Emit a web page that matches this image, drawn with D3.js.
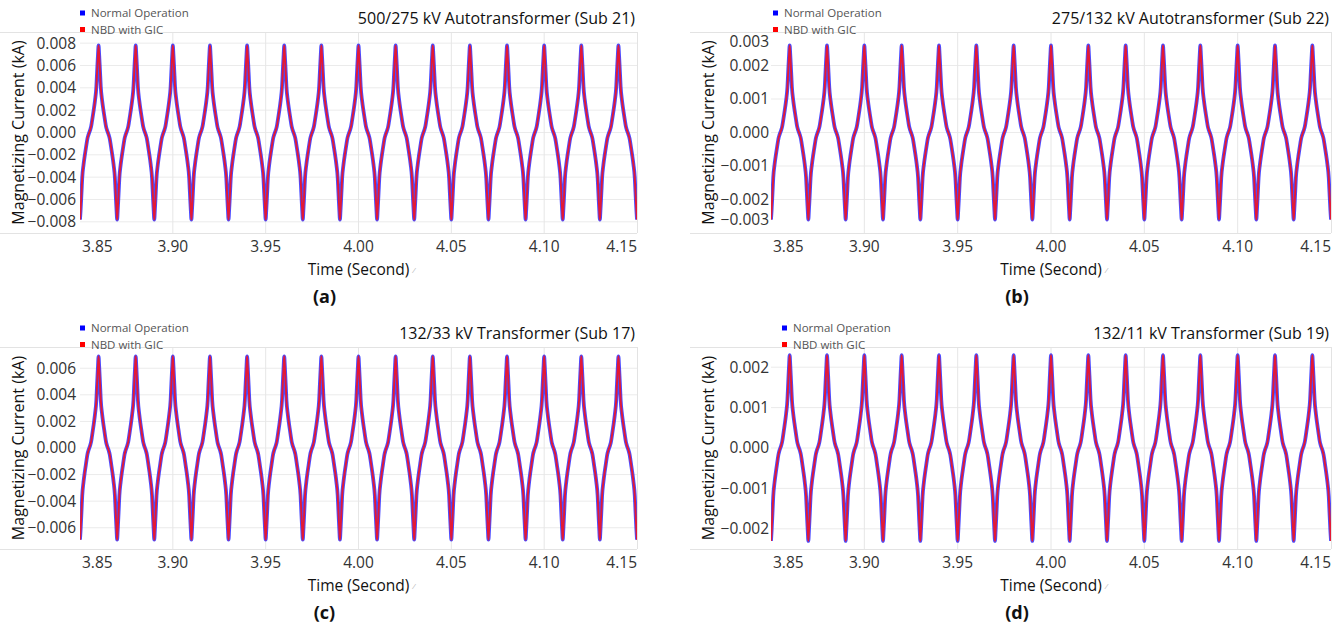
<!DOCTYPE html>
<html>
<head>
<meta charset="utf-8">
<script src="https://cdn.jsdelivr.net/npm/d3@7"></script>
<style>
  body { margin: 0; background: #fff; }
  svg { display: block; }
  text { font-family: "Open Sans", "Noto Sans", sans-serif; }
</style>
</head>
<body>
<div id="chart"></div>
<script>
// Données
const panelTitles = [
  '500/275 kV Autotransformer (Sub 21)',
  '275/132 kV Autotransformer (Sub 22)',
  '132/33 kV Transformer (Sub 17)',
  '132/11 kV Transformer (Sub 19)'
];
const panelLetters = ['(a)', '(b)', '(c)', '(d)'];
const seriesNames = ['Normal Operation', 'NBD with GIC'];

// Axe des temps
const timeDomain = [3.85, 4.15];
const timeTicks = [3.85, 3.90, 3.95, 4.00, 4.05, 4.10, 4.15];

// Axes verticaux (kA)
const yDomains = [[-0.009, 0.009], [-0.003, 0.003], [-0.0076, 0.0076], [-0.0025, 0.0025]];
const yTicks = [
  [-0.008, -0.006, -0.004, -0.002, 0, 0.002, 0.004, 0.006, 0.008],
  [-0.003, -0.002, -0.001, 0, 0.001, 0.002, 0.003],
  [-0.006, -0.004, -0.002, 0, 0.002, 0.004, 0.006],
  [-0.002, -0.001, 0, 0.001, 0.002]
];

// Crête du courant magnétisant (kA) par panneau
const peakNormal = [0.0078, 0.0026, 0.0069, 0.0023];
const peakGic = [0.0078, 0.0026, 0.0069, 0.0023];

// Un cycle de 20 ms (50 Hz), valeurs normalisées par la crête
const cycleStart = 3.85;
const cycleCount = 15;
const cycleMs = [0.0, 0.3, 0.6, 0.9, 1.2, 1.9, 2.6, 3.1, 3.6, 4.0, 4.5, 5.0, 5.5, 6.0, 6.4, 6.9, 7.4, 8.1, 8.8, 9.1, 9.4, 9.7,
                 10.0, 10.3, 10.6, 10.9, 11.2, 11.9, 12.6, 13.1, 13.6, 14.0, 14.5, 15.0, 15.5, 16.0, 16.4, 16.9, 17.4, 18.1, 18.8, 19.1, 19.4, 19.7];
const shapeNormal = [-1.00, -0.90, -0.78, -0.65, -0.52, -0.37, -0.26, -0.19, -0.12, -0.07, -0.03, 0.00, 0.03, 0.07, 0.12, 0.19, 0.26, 0.37, 0.52, 0.65, 0.78, 0.90,
                      1.00, 0.90, 0.78, 0.65, 0.52, 0.37, 0.26, 0.19, 0.12, 0.07, 0.03, 0.00, -0.03, -0.07, -0.12, -0.19, -0.26, -0.37, -0.52, -0.65, -0.78, -0.90];
const shapeGic = [-1.00, -0.90, -0.78, -0.65, -0.52, -0.37, -0.26, -0.19, -0.12, -0.07, -0.03, 0.00, 0.03, 0.07, 0.12, 0.19, 0.26, 0.37, 0.52, 0.65, 0.78, 0.90,
                   1.00, 0.90, 0.78, 0.65, 0.52, 0.37, 0.26, 0.19, 0.12, 0.07, 0.03, 0.00, -0.03, -0.07, -0.12, -0.19, -0.26, -0.37, -0.52, -0.65, -0.78, -0.90];

// Mise en page
const width = 1342;
const height = 628;
const panels = [
  { x0: 80, x1: 637, y0: 32, y1: 233, left: 0, legendX: 80, labelEnd: 76 },
  { x0: 771, x1: 1331, y0: 32, y1: 233, left: 690, legendX: 773, labelEnd: 769 },
  { x0: 80, x1: 637, y0: 347, y1: 549, left: 0, legendX: 80, labelEnd: 76 },
  { x0: 771, x1: 1331, y0: 347, y1: 549, left: 690, legendX: 782, labelEnd: 769 }
];
const colors = { normal: '#1f1fff', gic: '#ff1010' };

const svg = d3.select('#chart').append('svg')
  .attr('width', width)
  .attr('height', height);

// Construit la série complète en répétant le cycle relevé
function buildSeries(shape, peak) {
  const pts = [];
  for (let k = 0; k <= cycleCount; k++) {
    cycleMs.forEach((ms, i) => {
      const t = cycleStart + k * 0.02 + ms / 1000;
      if (t <= timeDomain[1] + 1e-9) pts.push([t, shape[i] * peak]);
    });
  }
  return pts;
}

panels.forEach((p, idx) => {
  const g = svg.append('g');

  const x = d3.scaleLinear().domain(timeDomain).range([p.x0, p.x1]);
  const y = d3.scaleLinear().domain(yDomains[idx]).range([p.y1, p.y0]);

  // Grille
  g.append('g')
    .selectAll('line.h')
    .data(yTicks[idx].filter(v => Math.abs(y(v) - p.y0) > 2 && Math.abs(y(v) - p.y1) > 2))
    .enter().append('line')
    .attr('x1', p.x0).attr('x2', p.x1)
    .attr('y1', d => y(d)).attr('y2', d => y(d))
    .attr('stroke', '#ebebeb').attr('stroke-width', 1);

  g.append('g')
    .selectAll('line.v')
    .data(timeTicks.filter(v => Math.abs(x(v) - p.x0) > 2 && Math.abs(x(v) - p.x1) > 2))
    .enter().append('line')
    .attr('x1', d => x(d)).attr('x2', d => x(d))
    .attr('y1', p.y0).attr('y2', p.y1)
    .attr('stroke', '#e6e6e6').attr('stroke-width', 1);

  // Bordures
  g.append('line').attr('x1', p.left).attr('x2', p.x1).attr('y1', p.y0 + 0.5).attr('y2', p.y0 + 0.5)
    .attr('stroke', '#e3e3e3');
  g.append('line').attr('x1', p.left).attr('x2', p.x1).attr('y1', p.y1 + 0.5).attr('y2', p.y1 + 0.5)
    .attr('stroke', '#e3e3e3');
  g.append('line').attr('x1', p.x1 + 0.5).attr('x2', p.x1 + 0.5).attr('y1', p.y0).attr('y2', p.y1)
    .attr('stroke', '#e3e3e3');

  // Étiquettes de l'axe Y
  g.append('g')
    .selectAll('text')
    .data(yTicks[idx])
    .enter().append('text')
    .attr('x', p.labelEnd)
    .attr('y', d => {
      const py = y(d);
      if (py - p.y0 < 6) return p.y0 + 10;
      if (p.y1 - py < 6) return p.y1 - 13;
      return py;
    })
    .attr('dy', '0.35em')
    .attr('text-anchor', 'end')
    .attr('font-size', 15.5)
    .attr('fill', '#333')
    .text(d => d3.format('.3f')(d));

  // Étiquettes de l'axe X
  g.append('g')
    .selectAll('text')
    .data(timeTicks)
    .enter().append('text')
    .attr('x', d => {
      const px = x(d);
      if (px - p.x0 < 6) return p.x0 + 2;
      if (p.x1 - px < 6) return p.x1;
      return px;
    })
    .attr('y', p.y1 + 14)
    .attr('dy', '0.35em')
    .attr('text-anchor', d => {
      const px = x(d);
      if (px - p.x0 < 6) return 'start';
      if (p.x1 - px < 6) return 'end';
      return 'middle';
    })
    .attr('font-size', 15.5)
    .attr('fill', '#333')
    .text(d => d3.format('.2f')(d));

  // Courbes
  const line = d3.line()
    .x(d => x(d[0]))
    .y(d => y(d[1]))
    .curve(d3.curveMonotoneX);

  const clipId = 'clip' + idx;
  svg.append('clipPath').attr('id', clipId)
    .append('rect').attr('x', p.x0).attr('y', p.y0 - 2).attr('width', p.x1 - p.x0).attr('height', p.y1 - p.y0 + 4);

  const curves = g.append('g').attr('clip-path', `url(#${clipId})`);
  curves.append('path')
    .datum(buildSeries(shapeNormal, peakNormal[idx]))
    .attr('d', line)
    .attr('fill', 'none')
    .attr('stroke', colors.normal)
    .attr('stroke-opacity', 0.8)
    .attr('stroke-width', 3.8);
  curves.append('path')
    .datum(buildSeries(shapeGic, peakGic[idx]))
    .attr('d', line)
    .attr('fill', 'none')
    .attr('stroke', colors.gic)
    .attr('stroke-opacity', 0.85)
    .attr('stroke-width', 1.9);

  // Titre
  g.append('text')
    .attr('x', p.x1 - 2)
    .attr('y', p.y0 - 14)
    .attr('dy', '0.35em')
    .attr('text-anchor', 'end')
    .attr('font-size', 16)
    .attr('fill', '#111')
    .text(panelTitles[idx]);

  // Légende
  seriesNames.forEach((name, i) => {
    const ly = p.y0 - 19 + i * 16.5;
    g.append('rect')
      .attr('x', p.legendX).attr('y', ly - 2.5)
      .attr('width', 5).attr('height', 5)
      .attr('fill', i === 0 ? '#0000ff' : '#ff0000');
    g.append('text')
      .attr('x', p.legendX + 11).attr('y', ly)
      .attr('dy', '0.35em')
      .attr('font-size', 11.5)
      .attr('fill', '#555')
      .text(name);
  });

  // Titres des axes
  const cy = (p.y0 + p.y1) / 2;
  g.append('text')
    .attr('transform', `translate(${p.left + 18},${cy}) rotate(-90)`)
    .attr('dy', '0.35em')
    .attr('text-anchor', 'middle')
    .attr('font-size', 16)
    .attr('fill', '#111')
    .text('Magnetizing Current (kA)');

  const cx = (p.x0 + p.x1) / 2;
  g.append('text')
    .attr('x', cx)
    .attr('y', p.y1 + 37)
    .attr('dy', '0.35em')
    .attr('text-anchor', 'middle')
    .attr('font-size', 15.5)
    .attr('fill', '#111')
    .text('Time (Second)');
  // petit repère gris après le titre de l'axe
  g.append('text')
    .attr('x', cx + 55)
    .attr('y', p.y1 + 37)
    .attr('dy', '0.35em')
    .attr('font-size', 8)
    .attr('fill', '#aaa')
    .text('⁄');

  // Lettre du panneau
  g.append('text')
    .attr('x', cx - 34)
    .attr('y', p.y1 + 64)
    .attr('dy', '0.35em')
    .attr('text-anchor', 'middle')
    .attr('font-family', 'Liberation Sans, Arial, sans-serif')
    .attr('font-weight', 'bold')
    .attr('font-size', 18)
    .attr('fill', '#111')
    .text(panelLetters[idx]);
});
</script>
</body>
</html>
